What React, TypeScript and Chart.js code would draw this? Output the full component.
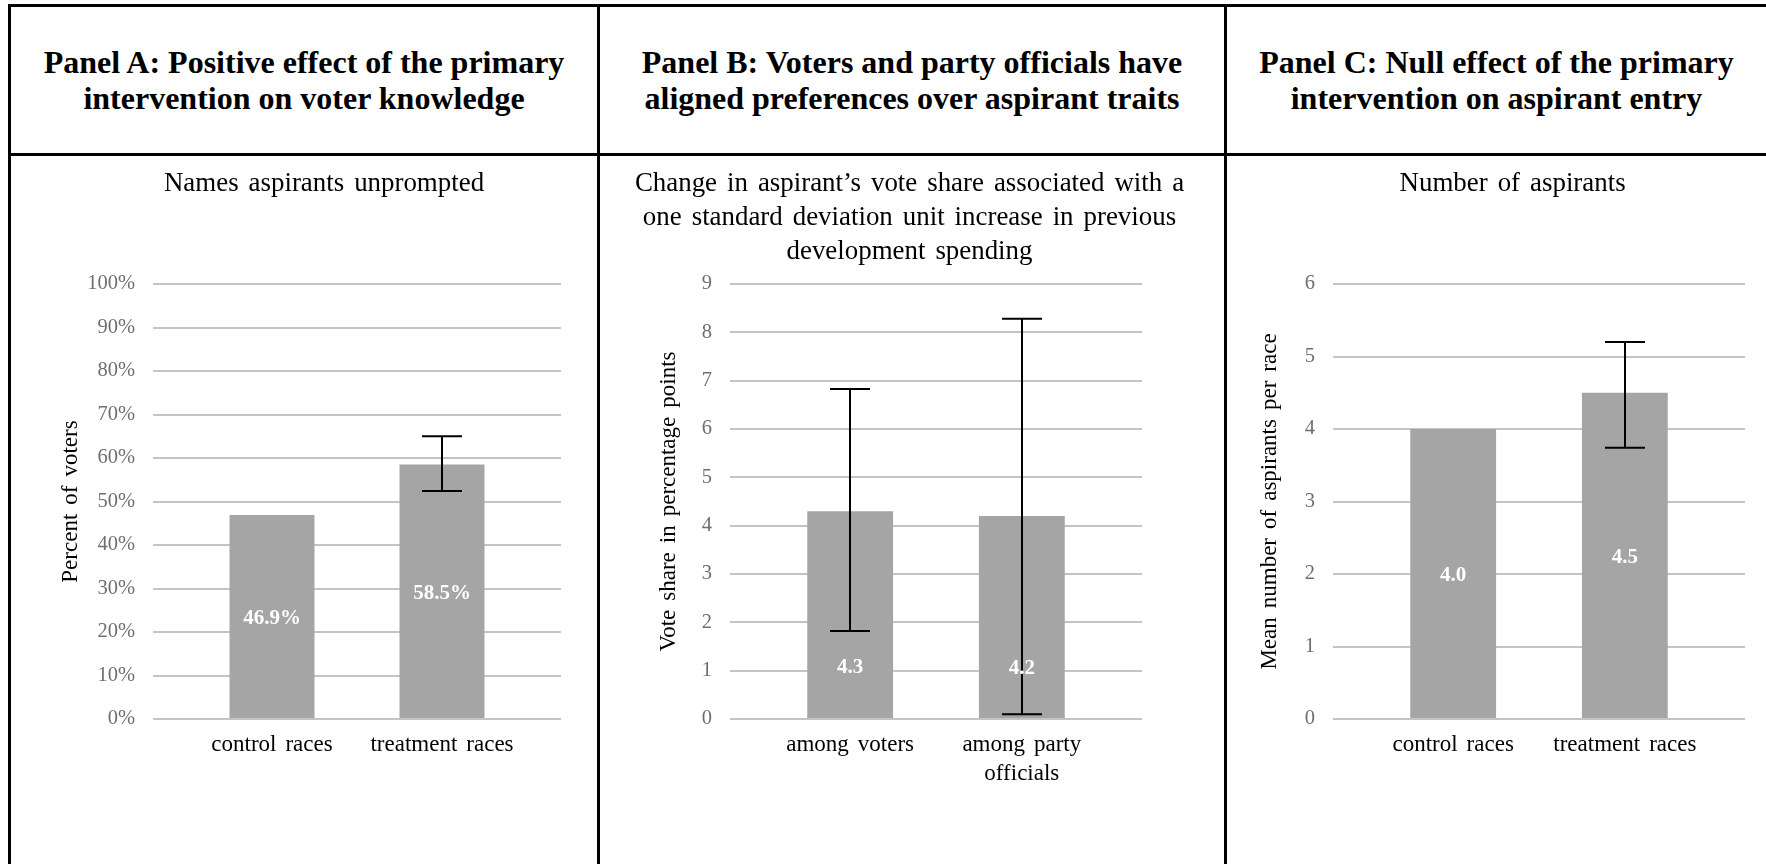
import React, { useEffect, useRef } from 'react';
import { Chart, registerables } from 'chart.js';

Chart.register(...registerables);

// ---------------- DATA ----------------
const headerA = ['Panel A: Positive effect of the primary', 'intervention on voter knowledge'];
const headerB = ['Panel B: Voters and party officials have', 'aligned preferences over aspirant traits'];
const headerC = ['Panel C: Null effect of the primary', 'intervention on aspirant entry'];

const subtitleA = ['Names aspirants unprompted'];
const yTitleA = 'Percent of voters';
const categoriesA: (string | string[])[] = ['control races', 'treatment races'];
const valuesA = [46.9, 58.5];
const ciLowA = [null, 52.4];
const ciHighA = [null, 65.0];
const yTicksA = [0, 10, 20, 30, 40, 50, 60, 70, 80, 90, 100];
const tickSuffixA = '%';

const subtitleB = [
  'Change in aspirant\u2019s vote share associated with a',
  'one standard deviation unit increase in previous',
  'development spending',
];
const yTitleB = 'Vote share in percentage points';
const categoriesB: (string | string[])[] = ['among voters', ['among party', 'officials']];
const valuesB = [4.3, 4.2];
const ciLowB = [1.82, 0.1];
const ciHighB = [6.83, 8.28];
const yTicksB = [0, 1, 2, 3, 4, 5, 6, 7, 8, 9];
const tickSuffixB = '';

const subtitleC = ['Number of aspirants'];
const yTitleC = 'Mean number of aspirants per race';
const categoriesC: (string | string[])[] = ['control races', 'treatment races'];
const valuesC = [4.0, 4.5];
const ciLowC = [null, 3.74];
const ciHighC = [null, 5.2];
const yTicksC = [0, 1, 2, 3, 4, 5, 6];
const tickSuffixC = '';

// ---------------- STYLE / LAYOUT ----------------
const SERIF = "'Liberation Serif', 'Times New Roman', Times, serif";
const BAR_COLOR = '#a5a5a5';
const GRID_COLOR = '#c4c4c4';
const TICK_COLOR = '#6f6f6f';
const CANVAS_TOP = 157;
const CANVAS_H = 707;
const WORD_SPACING = '3.25px';
const SUBTITLE_FONT = 26.9;
const SUBTITLE_FIRST_Y = 26.5;
const SUBTITLE_LINE = 34.2;
const PLOT_TOP = 127;

type PanelSpec = {
  header: string[];
  subtitle: string[];
  yTitle: string;
  categories: (string | string[])[];
  values: number[];
  ciLow: (number | null)[];
  ciHigh: (number | null)[];
  yTicks: number[];
  tickSuffix: string;
  labelSuffix: string;
  labelFrac: number;
  left: number;
  width: number;
  subtitleX: number;
  yAxisWidth: number;
  padRight: number;
  yTitlePadTop: number;
};

const panels: PanelSpec[] = [
  {
    header: headerA, subtitle: subtitleA, yTitle: yTitleA, categories: categoriesA,
    values: valuesA, ciLow: ciLowA, ciHigh: ciHighA, yTicks: yTicksA, tickSuffix: tickSuffixA,
    labelSuffix: '%', labelFrac: 0.5,
    left: 11, width: 586, subtitleX: 313, yAxisWidth: 142, padRight: 36, yTitlePadTop: 45.7,
  },
  {
    header: headerB, subtitle: subtitleB, yTitle: yTitleB, categories: categoriesB,
    values: valuesB, ciLow: ciLowB, ciHigh: ciHighB, yTicks: yTicksB, tickSuffix: tickSuffixB,
    labelSuffix: '', labelFrac: 0.255,
    left: 600, width: 624, subtitleX: 309.5, yAxisWidth: 130, padRight: 82, yTitlePadTop: 54.7,
  },
  {
    header: headerC, subtitle: subtitleC, yTitle: yTitleC, categories: categoriesC,
    values: valuesC, ciLow: ciLowC, ciHigh: ciHighC, yTicks: yTicksC, tickSuffix: tickSuffixC,
    labelSuffix: '', labelFrac: 0.5,
    left: 1227, width: 539, subtitleX: 285.6, yAxisWidth: 106, padRight: 21, yTitlePadTop: 28.7,
  },
];

function makeConfig(p: PanelSpec): any {
  const n = p.values.length;
  const spacingPlugin = {
    id: 'wordSpacing',
    beforeLayout(chart: any) { chart.ctx.wordSpacing = WORD_SPACING; },
    beforeDraw(chart: any) { chart.ctx.wordSpacing = WORD_SPACING; },
  };
  const subtitlePlugin = {
    id: 'chartSubtitle',
    afterDraw(chart: any) {
      const ctx = chart.ctx;
      ctx.save();
      ctx.wordSpacing = WORD_SPACING;
      ctx.fillStyle = '#000';
      ctx.font = `${SUBTITLE_FONT}px ${SERIF}`;
      ctx.textAlign = 'center';
      ctx.textBaseline = 'middle';
      p.subtitle.forEach((t, i) => {
        ctx.fillText(t, p.subtitleX, SUBTITLE_FIRST_Y + i * SUBTITLE_LINE);
      });
      ctx.restore();
    },
  };
  const errorBars = {
    id: 'errorBars',
    afterDatasetsDraw(chart: any) {
      const ctx = chart.ctx;
      const ys = chart.scales.y;
      const meta = chart.getDatasetMeta(0);
      ctx.save();
      ctx.strokeStyle = '#000';
      ctx.lineWidth = 2;
      meta.data.forEach((bar: any, i: number) => {
        const lo = p.ciLow[i];
        const hi = p.ciHigh[i];
        if (lo == null || hi == null) return;
        const x = Math.round(bar.x);
        const y1 = ys.getPixelForValue(lo);
        const y2 = ys.getPixelForValue(hi);
        const cap = 20;
        ctx.beginPath();
        ctx.moveTo(x, y1);
        ctx.lineTo(x, y2);
        ctx.moveTo(x - cap, y1);
        ctx.lineTo(x + cap, y1);
        ctx.moveTo(x - cap, y2);
        ctx.lineTo(x + cap, y2);
        ctx.stroke();
      });
      ctx.restore();
    },
  };
  const barLabels = {
    id: 'barLabels',
    afterDraw(chart: any) {
      const ctx = chart.ctx;
      const meta = chart.getDatasetMeta(0);
      ctx.save();
      ctx.fillStyle = '#ffffff';
      ctx.font = `bold 21px ${SERIF}`;
      ctx.textAlign = 'center';
      ctx.textBaseline = 'middle';
      meta.data.forEach((bar: any, i: number) => {
        const yy = bar.base + (bar.y - bar.base) * p.labelFrac + 2;
        ctx.fillText(p.values[i].toFixed(1) + p.labelSuffix, bar.x, yy);
      });
      ctx.restore();
    },
  };

  return {
    type: 'bar',
    data: {
      datasets: [
        {
          data: p.values.map((v, i) => ({ x: i, y: v })),
          backgroundColor: BAR_COLOR,
          borderWidth: 0,
          categoryPercentage: 1,
          barPercentage: 0.5,
        },
      ],
    },
    options: {
      animation: false,
      responsive: false,
      events: [],
      layout: { padding: { left: 0, right: p.padRight, top: PLOT_TOP, bottom: 45 } },
      plugins: {
        legend: { display: false },
        tooltip: { enabled: false },
        title: { display: false },
      },
      scales: {
        x: {
          type: 'linear',
          bounds: 'data',
          min: -0.7,
          max: n - 1 + 0.7,
          offset: false,
          grid: { display: false, drawTicks: false },
          border: { display: false },
          afterBuildTicks: (s: any) => {
            s.ticks = p.categories.map((_, i) => ({ value: i }));
          },
          afterFit: (s: any) => { s.height = 100; },
          ticks: {
            autoSkip: false,
            maxRotation: 0,
            minRotation: 0,
            padding: 11,
            color: '#000',
            font: { family: SERIF, size: 23, lineHeight: 1.28 },
            callback: (v: number) => p.categories[Math.round(v)],
          },
        },
        y: {
          type: 'linear',
          bounds: 'data',
          min: p.yTicks[0],
          max: p.yTicks[p.yTicks.length - 1],
          afterBuildTicks: (s: any) => {
            s.ticks = p.yTicks.map((v) => ({ value: v }));
          },
          afterFit: (s: any) => { s.width = p.yAxisWidth; },
          grid: { color: GRID_COLOR, lineWidth: 2, drawTicks: false },
          border: { display: false },
          ticks: {
            padding: 18,
            color: TICK_COLOR,
            font: { family: SERIF, size: 20.5 },
            callback: (v: number) => `${v}${p.tickSuffix}`,
          },
          title: {
            display: true,
            text: p.yTitle,
            color: '#000',
            font: { family: SERIF, size: 23, lineHeight: 1.2 },
            padding: { top: p.yTitlePadTop, bottom: 0 },
          },
        },
      },
    },
    plugins: [spacingPlugin, subtitlePlugin, errorBars, barLabels],
  };
}

function PanelChart({ spec }: { spec: PanelSpec }) {
  const ref = useRef<HTMLCanvasElement>(null);
  useEffect(() => {
    if (!ref.current) return;
    const chart = new Chart(ref.current, makeConfig(spec));
    return () => chart.destroy();
  }, [spec]);
  return (
    <canvas
      ref={ref}
      width={spec.width}
      height={CANVAS_H}
      style={{ position: 'absolute', left: spec.left, top: CANVAS_TOP, width: spec.width, height: CANVAS_H }}
    />
  );
}

const line = (l: number, t: number, w: number, h: number) => (
  <div style={{ position: 'absolute', left: l, top: t, width: w, height: h, background: '#000' }} />
);

export default function App() {
  return (
    <div
      style={{
        position: 'absolute', left: 0, top: 0, width: 1766, height: 864,
        overflow: 'hidden', background: '#fff',
      }}
    >
      {panels.map((p, i) => (
        <div
          key={'h' + i}
          style={{
            position: 'absolute', left: p.left, top: 7, width: p.width, height: 146,
            display: 'flex', flexDirection: 'column', justifyContent: 'center', alignItems: 'center',
            fontFamily: SERIF, fontWeight: 'bold', fontSize: 32, lineHeight: '36px', color: '#000',
            textAlign: 'center', whiteSpace: 'nowrap',
          }}
        >
          {p.header.map((t, j) => (
            <div key={j}>{t}</div>
          ))}
        </div>
      ))}
      {panels.map((p, i) => (
        <PanelChart key={'c' + i} spec={p} />
      ))}
      {line(8, 4, 1758, 3)}
      {line(8, 153, 1758, 3)}
      {line(8, 4, 3, 860)}
      {line(597, 4, 3, 860)}
      {line(1224, 4, 3, 860)}
    </div>
  );
}
